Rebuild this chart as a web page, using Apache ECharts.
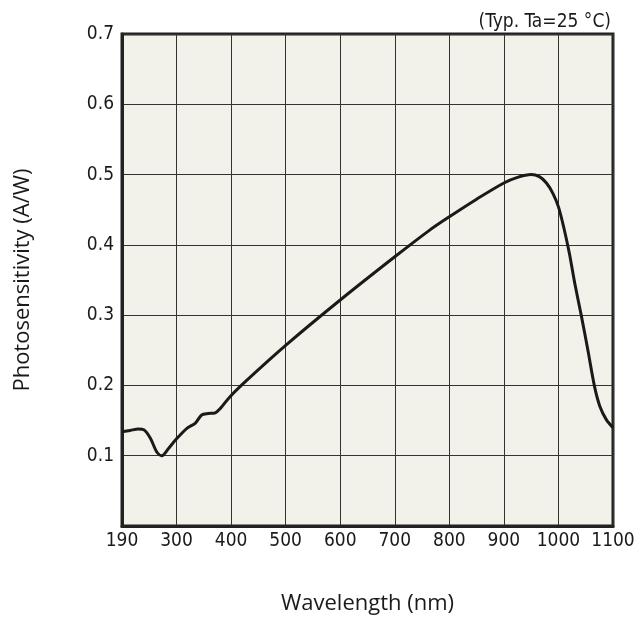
<!DOCTYPE html>
<html><head><meta charset="utf-8">
<script src="https://cdn.jsdelivr.net/npm/echarts@6/dist/echarts.min.js"></script>
<style>html,body{margin:0;padding:0;background:#fff}#c{width:638px;height:624px}</style>
</head><body><div id="c"></div>
<script>
const wavelength = [200,215,230,240,252,264,273,285,300,319,334,346,358,371,380,398,429,500,600,700,764,800,850,900,925,950,965,978,990,1000,1010,1020,1030,1042,1054,1066,1076,1088,1100];
const sensitivity = [0.134,0.136,0.138,0.137,0.125,0.105,0.100,0.110,0.124,0.139,0.146,0.158,0.160,0.161,0.167,0.184,0.2075,0.257,0.3215,0.383,0.421,0.440,0.465,0.488,0.496,0.500,0.497,0.488,0.473,0.454,0.424,0.388,0.345,0.299,0.250,0.199,0.170,0.151,0.140];
const xTickValues = [200,300,400,500,600,700,800,900,1000,1100];
const xTickLabels = ['190','300','400','500','600','700','800','900','1000','1100'];
const yTickValues = [0,0.1,0.2,0.3,0.4,0.5,0.6,0.7];
const yTickLabels = ['','0.1','0.2','0.3','0.4','0.5','0.6','0.7'];

const chart = echarts.init(document.getElementById('c'), null, {renderer:'canvas'});
const tickFont = "'DejaVu Sans Condensed', 'DejaVu Sans', sans-serif";
const lab = {fontFamily:tickFont, fontSize:19, color:'#1a1a1a'};
chart.setOption({
  animation:false,
  title:{text:'(Typ. Ta=25 °C)', right:22, top:8, textStyle:{fontFamily:tickFont, fontSize:19, fontWeight:'normal', color:'#1a1a1a'}},
  grid:{left:122, right:25, top:34, bottom:98, show:true, backgroundColor:'#f2f1ea', borderColor:'#222', borderWidth:3},
  xAxis:{type:'value', min:200, max:1100, interval:100,
    name:'Wavelength (nm)', nameLocation:'middle', nameGap:67,
    nameTextStyle:{fontFamily:'Open Sans', fontSize:22, color:'#1a1a1a'},
    axisLine:{show:true, lineStyle:{color:'#222', width:3}},
    axisTick:{show:false},
    axisLabel:{...lab, margin:6, formatter:v=>{const i=xTickValues.indexOf(v);return i>=0?xTickLabels[i]:'';}},
    splitLine:{show:true, lineStyle:{color:'#333', width:1}}},
  yAxis:{type:'value', min:0, max:0.7, interval:0.1,
    name:'Photosensitivity (A/W)', nameLocation:'middle', nameGap:88,
    nameTextStyle:{fontFamily:'Open Sans', fontSize:22, color:'#1a1a1a'},
    axisLine:{show:true, lineStyle:{color:'#222', width:3}},
    axisTick:{show:false},
    axisLabel:{...lab, margin:8, formatter:v=>{const i=yTickValues.findIndex(t=>Math.abs(t-v)<1e-9);return i>=0?yTickLabels[i]:'';}},
    splitLine:{show:true, lineStyle:{color:'#333', width:1}}},
  series:[{type:'line', data:wavelength.map((w,i)=>[w,sensitivity[i]]), smooth:0.3, showSymbol:false,
    lineStyle:{color:'#1a1a1a', width:3}}]
});
</script></body></html>
